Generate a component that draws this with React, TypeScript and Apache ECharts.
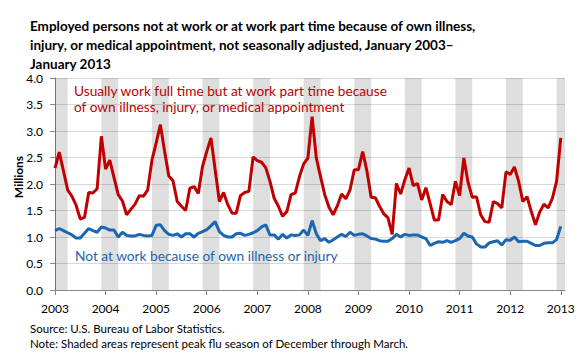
import React, { useEffect, useRef } from 'react';
import * as echarts from 'echarts';

const years = ['2003', '2004', '2005', '2006', '2007', '2008', '2009', '2010', '2011', '2012', '2013'];
const monthCodes = ['01', '02', '03', '04', '05', '06', '07', '08', '09', '10', '11', '12'];
// Monthly categories Jan 2003 .. Feb 2013 (last one only extends the axis)
const categories: string[] = [];
years.forEach((y) => monthCodes.forEach((m) => categories.push(`${y}-${m}`)));
const axisCategories = categories.slice(0, 122);

const partTimeIllness = [
  2.30, 2.60, 2.25, 1.89, 1.77, 1.60, 1.34, 1.37, 1.84, 1.83, 1.91, 2.90,
  2.28, 2.45, 2.12, 1.80, 1.68, 1.42, 1.52, 1.62, 1.78, 1.77, 1.89, 2.45,
  2.77, 3.12, 2.62, 2.15, 2.06, 1.67, 1.58, 1.50, 1.92, 1.95, 1.82, 2.33,
  2.61, 2.87, 2.27, 1.67, 1.84, 1.61, 1.45, 1.45, 1.78, 1.84, 1.86, 2.51,
  2.44, 2.41, 2.31, 2.05, 1.73, 1.58, 1.39, 1.48, 1.80, 1.83, 2.14, 2.38,
  2.49, 3.27, 2.49, 2.14, 1.80, 1.56, 1.42, 1.59, 1.81, 1.72, 1.89, 2.27,
  2.27, 2.61, 2.25, 1.75, 1.74, 1.58, 1.44, 1.36, 1.05, 2.01, 1.81, 2.08,
  2.30, 1.97, 2.01, 1.70, 1.93, 1.63, 1.32, 1.32, 1.80, 1.67, 1.61, 2.05,
  1.78, 2.49, 2.03, 1.75, 1.76, 1.42, 1.29, 1.28, 1.67, 1.63, 1.55, 2.23,
  2.18, 2.32, 2.05, 1.67, 1.76, 1.48, 1.23, 1.47, 1.62, 1.55, 1.73, 2.05,
  2.87,
];

const notAtWorkIllness = [
  1.12, 1.16, 1.12, 1.08, 1.04, 0.98, 0.98, 1.07, 1.16, 1.12, 1.09, 1.19,
  1.17, 1.13, 1.13, 1.00, 1.09, 1.03, 1.02, 1.02, 1.05, 1.03, 1.02, 1.03,
  1.22, 1.23, 1.12, 1.05, 1.03, 1.06, 1.00, 1.06, 1.06, 1.00, 1.07, 1.10,
  1.14, 1.21, 1.29, 1.10, 1.03, 1.00, 1.00, 1.06, 1.07, 1.03, 1.05, 1.08,
  1.12, 1.19, 1.23, 1.04, 1.04, 0.96, 1.05, 0.98, 1.04, 1.03, 1.04, 1.13,
  1.03, 1.31, 1.06, 0.93, 0.97, 0.90, 0.95, 1.00, 1.05, 1.01, 1.09, 1.03,
  1.05, 1.06, 1.02, 0.97, 0.96, 0.93, 0.92, 0.92, 0.97, 1.05, 1.00, 1.05,
  1.03, 1.04, 1.04, 1.00, 0.97, 0.84, 0.88, 0.91, 0.90, 0.93, 0.90, 0.93,
  0.97, 1.07, 1.02, 1.00, 0.87, 0.81, 0.81, 0.89, 0.91, 0.93, 0.85, 0.95,
  0.94, 1.00, 0.91, 0.92, 0.92, 0.88, 0.84, 0.84, 0.88, 0.89, 0.89, 0.95,
  1.20,
];

// Flu seasons December through March (shaded)
const fluSeasons: [string, string][] = [
  ['2003-01', '2003-04'],
  ['2003-12', '2004-04'],
  ['2004-12', '2005-04'],
  ['2005-12', '2006-04'],
  ['2006-12', '2007-04'],
  ['2007-12', '2008-04'],
  ['2008-12', '2009-04'],
  ['2009-12', '2010-04'],
  ['2010-12', '2011-04'],
  ['2011-12', '2012-04'],
  ['2012-12', '2013-02'],
];

const titleLines = [
  'Employed persons not at work or at work part time because of own illness,',
  'injury, or medical appointment, not seasonally adjusted, January 2003\u2013',
  'January 2013',
];
const redLabel = ['Usually work full time but at work part time because', 'of own illness, injury, or medical appointment'];
const blueLabel = 'Not at work because of own illness or injury';
const sourceText = 'Source: U.S. Bureau of Labor Statistics.';
const noteText = 'Note: Shaded areas represent peak flu season of December through March.';

const FONT = 'Lato, "Open Sans", sans-serif';
const RED = '#C00000';
const BLUE = '#1A66B0';

export default function App() {
  const ref = useRef<HTMLDivElement>(null);
  useEffect(() => {
    if (!ref.current) return;
    const chart = echarts.init(ref.current, undefined, { renderer: 'svg' });
    chart.setOption({
      animation: false,
      grid: { left: 55, right: 15, top: 78, bottom: 70 },
      xAxis: {
        type: 'category',
        data: axisCategories,
        boundaryGap: false,
        axisLine: { lineStyle: { color: '#868686', width: 1 } },
        axisTick: { interval: 11, length: 5, lineStyle: { color: '#868686' } },
        axisLabel: {
          interval: 11,
          formatter: (v: string) => v.slice(0, 4),
          color: '#000',
          fontSize: 12,
          fontFamily: FONT,
          margin: 12,
        },
        splitLine: { show: false },
      },
      yAxis: {
        type: 'value',
        min: 0,
        max: 4,
        interval: 0.5,
        axisLine: { show: true, lineStyle: { color: '#868686' } },
        axisTick: { show: true, length: 5, lineStyle: { color: '#868686' } },
        axisLabel: {
          formatter: (v: number) => v.toFixed(1),
          color: '#000',
          fontSize: 12,
          fontFamily: FONT,
          margin: 12,
        },
        splitLine: { lineStyle: { color: '#D9D9D9', width: 1 } },
      },
      series: [
        {
          type: 'line',
          name: 'Part time',
          data: partTimeIllness,
          symbol: 'none',
          lineStyle: { color: RED, width: 3 },
          itemStyle: { color: RED },
          z: 3,
          markArea: {
            silent: true,
            itemStyle: { color: 'rgba(0,0,0,0.13)' },
            data: fluSeasons.map(([a, b]) => [{ xAxis: a }, { xAxis: b }]),
          },
        },
        {
          type: 'line',
          name: 'Not at work',
          data: notAtWorkIllness,
          symbol: 'none',
          lineStyle: { color: BLUE, width: 3 },
          itemStyle: { color: BLUE },
          z: 3,
        },
      ],
      graphic: {
        elements: [
          {
            type: 'text',
            left: 30,
            top: 16,
            z: 100,
            style: { text: titleLines.join('\n'), font: `bold 13.5px ${FONT}`, lineHeight: 19, fill: '#000' },
          },
          {
            type: 'text',
            x: 18,
            y: 177,
            z: 100,
            rotation: Math.PI / 2,
            style: { text: 'Millions', font: `bold 12px ${FONT}`, fill: '#000', align: 'center', verticalAlign: 'middle' },
          },
          {
            type: 'text',
            x: 74,
            y: 90,
            z: 100,
            style: { text: redLabel[0], font: `13.7px ${FONT}`, fill: RED, verticalAlign: 'middle' },
          },
          {
            type: 'text',
            x: 74,
            y: 106,
            z: 100,
            style: { text: redLabel[1], font: `13.7px ${FONT}`, fill: RED, verticalAlign: 'middle' },
          },
          {
            type: 'text',
            x: 75,
            y: 255,
            z: 100,
            style: { text: blueLabel, font: `13.7px ${FONT}`, fill: BLUE, verticalAlign: 'middle' },
          },
          {
            type: 'text',
            x: 30,
            y: 328,
            z: 100,
            style: { text: sourceText, font: `11.5px ${FONT}`, fill: '#000', verticalAlign: 'middle' },
          },
          {
            type: 'text',
            x: 30,
            y: 343,
            z: 100,
            style: { text: noteText, font: `11.5px ${FONT}`, fill: '#000', verticalAlign: 'middle' },
          },
        ],
      },
    });
    return () => chart.dispose();
  }, []);
  return <div ref={ref} style={{ position: 'fixed', left: 0, top: 0, width: 580, height: 360, background: '#fff' }} />;
}
